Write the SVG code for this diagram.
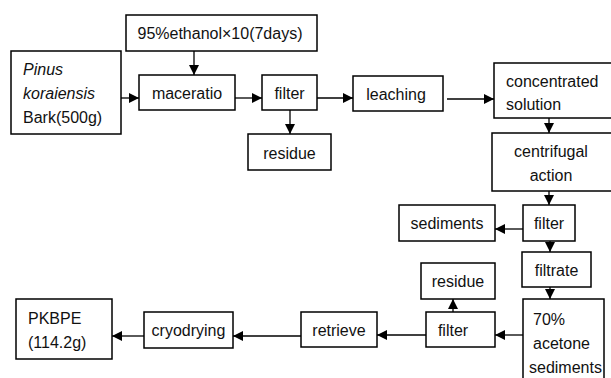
<svg xmlns="http://www.w3.org/2000/svg" width="611" height="378" viewBox="0 0 611 378">
<style>
rect{fill:#fff;stroke:#000;stroke-width:1.5}
text{font-family:"Liberation Sans",Arial,sans-serif;font-size:16px;fill:#111}
.c{text-anchor:middle}
#connectors line{stroke:#000;stroke-width:1.3}
</style>
<defs>
<marker id="a" viewBox="0 0 10 10" refX="10" refY="5" markerWidth="10" markerHeight="10" markerUnits="userSpaceOnUse" orient="auto">
<path d="M0,0 L10,5 L0,10 z" fill="#000"/>
</marker>
</defs>
<rect width="611" height="378" style="fill:#fff;stroke:none"/>
<g id="connectors">
<line x1="194" y1="51" x2="194" y2="75" marker-end="url(#a)"/>
<line x1="121" y1="98" x2="139" y2="98" marker-end="url(#a)"/>
<line x1="235" y1="98" x2="262" y2="98" marker-end="url(#a)"/>
<line x1="290" y1="110" x2="290" y2="134" marker-end="url(#a)"/>
<line x1="317" y1="98" x2="353" y2="98" marker-end="url(#a)"/>
<line x1="447" y1="99" x2="494" y2="99" marker-end="url(#a)"/>
<line x1="549" y1="118" x2="549" y2="133" marker-end="url(#a)"/>
<line x1="549" y1="191" x2="549" y2="205" marker-end="url(#a)"/>
<line x1="523" y1="229" x2="495" y2="229" marker-end="url(#a)"/>
<line x1="550" y1="241" x2="550" y2="252" marker-end="url(#a)"/>
<line x1="550" y1="287" x2="550" y2="299" marker-end="url(#a)"/>
<line x1="523" y1="335" x2="495" y2="335" marker-end="url(#a)"/>
<line x1="453" y1="312" x2="453" y2="299" marker-end="url(#a)"/>
<line x1="426" y1="335" x2="377" y2="335" marker-end="url(#a)"/>
<line x1="301" y1="336" x2="233" y2="336" marker-end="url(#a)"/>
<line x1="144" y1="336" x2="112" y2="336" marker-end="url(#a)"/>
</g>
<g id="ethanol"><rect x="126" y="15" width="191" height="36"/><text class="c" x="220" y="39">95%ethanol×10(7days)</text></g>
<g id="pinus"><rect x="11" y="51" width="110" height="83"/><text x="23" y="75" font-style="italic">Pinus</text><text x="23" y="99" font-style="italic">koraiensis</text><text x="23" y="123">Bark(500g)</text></g>
<g id="maceratio"><rect x="139" y="75" width="96" height="35"/><text class="c" x="187" y="99">maceratio</text></g>
<g id="filter1"><rect x="262" y="75" width="55" height="35"/><text class="c" x="289.5" y="99">filter</text></g>
<g id="residue1"><rect x="248" y="134" width="83" height="36"/><text class="c" x="289.5" y="159">residue</text></g>
<g id="leaching"><rect x="353" y="76" width="90" height="35"/><text class="c" x="396" y="100">leaching</text></g>
<g id="concentrated"><rect x="494" y="63" width="120" height="55"/><text x="506" y="87">concentrated</text><text x="506" y="110">solution</text></g>
<g id="centrifugal"><rect x="492" y="133" width="122" height="58"/><text class="c" x="551" y="157">centrifugal</text><text class="c" x="551" y="181">action</text></g>
<g id="filter2"><rect x="523" y="205" width="52" height="36"/><text class="c" x="549" y="229">filter</text></g>
<g id="sediments"><rect x="399" y="205" width="96" height="36"/><text class="c" x="447" y="229">sediments</text></g>
<g id="filtrate"><rect x="522" y="252" width="69" height="35"/><text class="c" x="556.5" y="276">filtrate</text></g>
<g id="acetone"><rect x="523" y="299" width="81" height="84"/><text x="533" y="325">70%</text><text x="533" y="349">acetone</text><text x="529" y="373">sediments</text></g>
<g id="residue2"><rect x="421" y="263" width="74" height="36"/><text class="c" x="458" y="287">residue</text></g>
<g id="filter3"><rect x="426" y="312" width="69" height="35"/><text class="c" x="453" y="336">filter</text></g>
<g id="retrieve"><rect x="301" y="312" width="76" height="35"/><text class="c" x="339" y="336">retrieve</text></g>
<g id="cryodrying"><rect x="144" y="312" width="89" height="36"/><text class="c" x="188.5" y="336">cryodrying</text></g>
<g id="pkbpe"><rect x="16" y="299" width="96" height="60"/><text x="28" y="324">PKBPE</text><text x="28" y="348">(114.2g)</text></g>
</svg>
